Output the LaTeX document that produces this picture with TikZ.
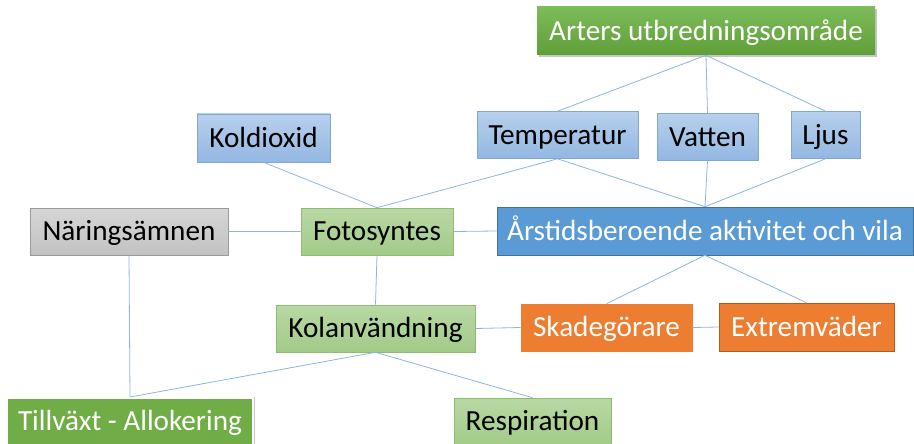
\documentclass[tikz,border=0pt]{standalone}
\usepackage{fontspec}
\setmainfont{Carlito}
\usetikzlibrary{shadows}
\definecolor{linkblue}{HTML}{8EB4E3}
\definecolor{lbluetop}{HTML}{B7D0EC}
\definecolor{lbluebot}{HTML}{93B7E2}
\definecolor{lblueline}{HTML}{7FA8D8}
\definecolor{lgreentop}{HTML}{B8D8A4}
\definecolor{lgreenbot}{HTML}{A2CB88}
\definecolor{lgreenline}{HTML}{8FBC72}
\definecolor{graytop}{HTML}{D6D6D6}
\definecolor{graybot}{HTML}{C2C2C2}
\definecolor{grayline}{HTML}{9A9A9A}
\definecolor{dgreentop}{HTML}{7DBB5B}
\definecolor{dgreenbot}{HTML}{5F9F37}
\definecolor{dgreen}{HTML}{70AD47}
\definecolor{midblue}{HTML}{5B9BD5}
\definecolor{midblueline}{HTML}{41719C}
\definecolor{orange}{HTML}{ED7D31}
\definecolor{orangeline}{HTML}{AE5A21}
\begin{document}
\begin{tikzpicture}[x=1pt,y=-1pt,
	box/.style={rectangle,inner sep=0pt,minimum height=47pt,line width=.6pt,
		text height=18.5pt,text depth=0pt,font=\fontsize{29.2}{33}\selectfont},
	lightblue/.style={box,draw=lblueline,top color=lbluetop,bottom color=lbluebot,text=black},
	lightgreen/.style={box,draw=lgreenline,top color=lgreentop,bottom color=lgreenbot,text=black},
	lightgray/.style={box,draw=grayline,top color=graytop,bottom color=graybot,text=black},
	darkgreen/.style={box,top color=dgreentop,bottom color=dgreenbot,text=white,
		drop shadow={opacity=.45,shadow xshift=1.5pt,shadow yshift=-2pt}},
	darkblue/.style={box,draw=midblueline,fill=midblue,text=white},
	orangebox/.style={box,fill=orange,text=white},
	link/.style={draw=linkblue,line width=.8pt}]
	\useasboundingbox (0,0) rectangle (914,444);
	\begin{scope}
		\node[darkgreen,minimum width=338pt,minimum height=48pt] (arter) at (706,31) {Arters utbredningsområde};
		\node[lightblue,minimum width=161pt] (temp) at (557.5,135) {Temperatur};
		\node[lightblue,minimum width=101pt] (vatten) at (707.5,137) {Vatten};
		\node[lightblue,minimum width=69pt] (ljus) at (825.5,135) {Ljus};
		\node[lightblue,minimum width=133pt,minimum height=48pt] (koldiox) at (263.5,138) {Koldioxid};
	\end{scope}
	\begin{scope}
		\node[lightgray,minimum width=198pt] (naring) at (129,231.5) {Näringsämnen};
		\node[lightgreen,minimum width=152pt] (fotosyn) at (377,231.5) {Fotosyntes};
		\node[darkblue,minimum width=416pt,minimum height=48pt] (arstid) at (705,231) {Årstidsberoende aktivitet och vila};
	\end{scope}
	\begin{scope}
		\node[lightgreen,minimum width=199pt] (kolanv) at (375.5,328.5) {Kolanvändning};
		\node[orangebox,draw=orange,minimum width=171pt] (skade) at (606.5,327.5) {Skadegörare};
		\node[orangebox,draw=orangeline,minimum width=175pt,minimum height=48pt] (extrem) at (806.5,327) {Extremväder};
		\node[box,fill=dgreen,text=white,draw=white,line width=2pt,
			preaction={draw=black!22,line width=3pt},minimum width=246pt] (tillvaxt) at (130,421.5) {Tillväxt - Allokering};
		\node[lightgreen,minimum width=157pt] (resp) at (532.5,421.5) {Respiration};
	\end{scope}
	\begin{scope}[link]
		\draw
			(arter.south) -- (temp.north)
			(arter.south) -- (vatten.north)
			(arter.south) -- (ljus.north)
		;
		\draw
			(temp.south) -- (fotosyn.north)
			(koldiox.south) -- (fotosyn.north)
			(temp.south) -- (arstid.north)
			(vatten.south) -- (arstid.north)
			(ljus.south) -- (arstid.north)
		;
		\draw
			(naring.east) -- (fotosyn.west)
			(fotosyn.east) -- (arstid.west)
			(fotosyn.south) -- (kolanv.north)
			(naring.south) -- (tillvaxt.north)
		;
		\draw
			(arstid.south) -- (skade.north)
			(arstid.south) -- (extrem.north)
			(kolanv.east) -- (skade.west)
			(skade.east) -- (extrem.west)
			(kolanv.south) -- (tillvaxt.north)
			(kolanv.south) -- (resp.north)
		;
	\end{scope}
\end{tikzpicture}
\end{document}
